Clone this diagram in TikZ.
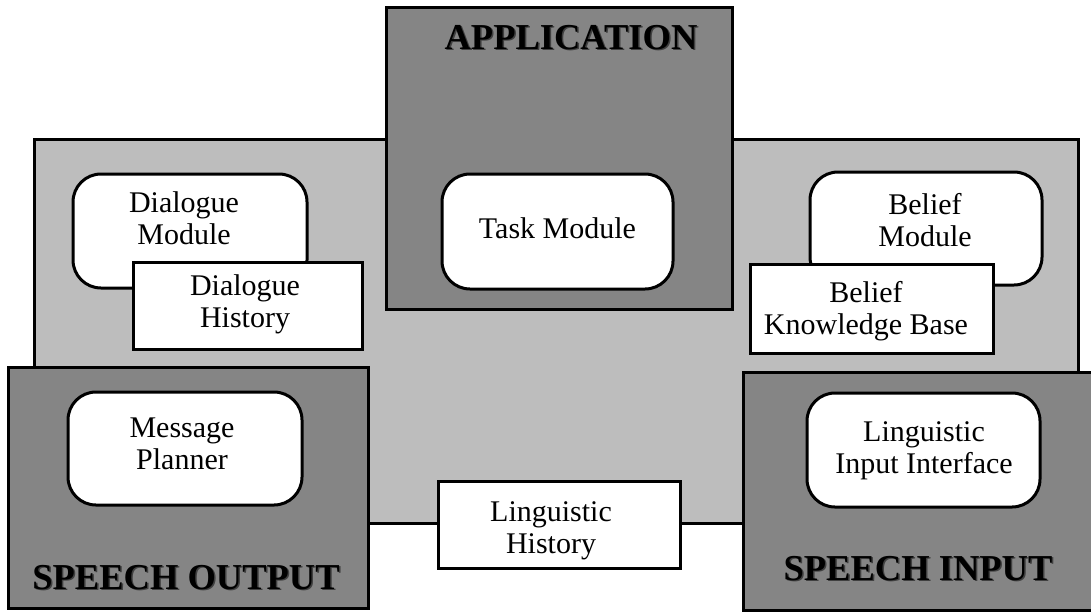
\documentclass[tikz,border=0pt]{standalone}
\usepackage{fontspec}
\setmainfont{Liberation Serif}
\definecolor{lightfill}{gray}{0.74}
\definecolor{darkfill}{gray}{0.52}
\begin{document}
\begin{tikzpicture}[x=1pt,y=-1pt,
  panel/.style={draw, line width=3pt, fill=lightfill, inner sep=0},
  unit/.style={draw, line width=3pt, fill=darkfill, inner sep=0},
  module/.style={draw, line width=3pt, fill=white, rounded corners=28pt, inner sep=0},
  store/.style={draw, line width=3pt, fill=white, inner sep=0},
  txt/.style={font=\fontsize{30}{32}\selectfont, align=center, inner sep=0},
  title/.style={font=\fontsize{36.5}{40}\selectfont\bfseries, inner sep=0, anchor=base},
  shade/.style={title, text=black!75}]
\useasboundingbox (0,0) rectangle (1091,614);

% shared workspace
\node[panel, minimum width=1044pt, minimum height=384pt] (work) at (556,331) {};

% application unit
\node[unit, minimum width=346pt, minimum height=302pt] (app) at (559,158) {};
\node[shade] (appS) at (572.5,50.5) {APPLICATION};
\node[title] (appT) at (571,49) {APPLICATION};
\node[module, minimum width=231pt, minimum height=115pt] (task) at (557.5,231.5) {};
\node[txt, anchor=base] (taskT) at (557.5,238) {Task Module};

% dialogue side
\node[module, minimum width=234pt, minimum height=114pt] (dm) at (190,231) {};
\node[txt] (dmT) at (184,218) {Dialogue\\Module};
\node[store, minimum width=229pt, minimum height=87pt] (dh) at (247.5,305.5) {};
\node[txt] (dhT) at (245,304) {Dialogue\\History};

% belief side
\node[module, minimum width=232pt, minimum height=113pt] (bm) at (926,228.5) {};
\node[txt] (bmT) at (925,220.5) {Belief\\Module};
\node[store, minimum width=243pt, minimum height=89pt] (bkb) at (871.5,308.5) {};
\node[txt] (bkbT) at (866,311) {Belief\\Knowledge Base};

% speech output unit
\node[unit, minimum width=360pt, minimum height=241pt] (so) at (188,487.5) {};
\node[module, minimum width=234pt, minimum height=113pt] (mp) at (185,448.5) {};
\node[txt] (mpT) at (182,444) {Message\\Planner};
\node[shade] (soS) at (187.5,590.5) {SPEECH OUTPUT};
\node[title] (soT) at (186,589) {SPEECH OUTPUT};

% speech input unit
\node[unit, minimum width=352pt, minimum height=238pt] (si) at (919,491) {};
\node[module, minimum width=233pt, minimum height=114pt] (lii) at (923.5,450) {};
\node[txt] (liiT) at (924,450.5) {Linguistic\\Input Interface};
\node[shade] (siS) at (919.5,581.5) {SPEECH INPUT};
\node[title] (siT) at (918,580) {SPEECH INPUT};

% linguistic history store
\node[store, minimum width=242pt, minimum height=87pt] (lh) at (559,524.5) {};
\node[txt] (lhT) at (551,530.5) {Linguistic\\History};
\end{tikzpicture}
\end{document}
